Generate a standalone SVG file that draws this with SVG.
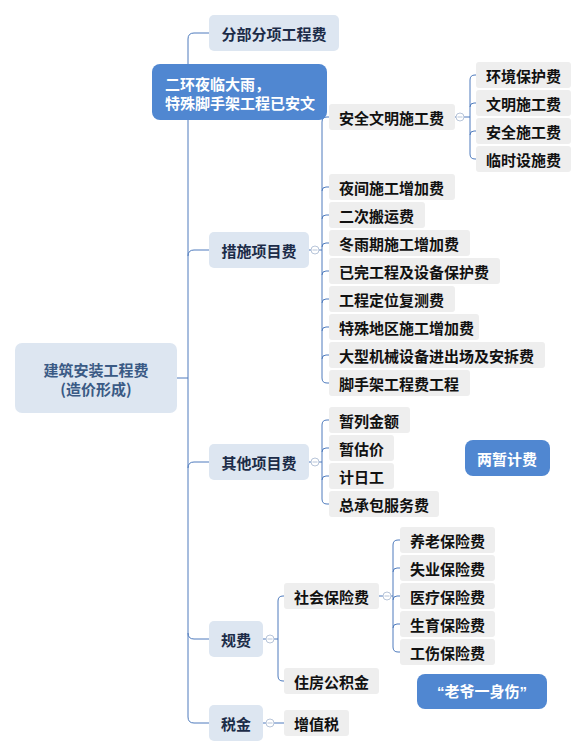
<svg xmlns="http://www.w3.org/2000/svg" width="587" height="750" viewBox="0 0 587 750">
<style>
text{font-family:"Noto Sans CJK SC","Noto Sans CJK TC",sans-serif;font-size:15px;font-weight:bold;dominant-baseline:central}
.root rect{fill:#dde6f1}
.root text{fill:#3a5a85;text-anchor:middle}
.l1 rect{fill:#dde6f1}
.l1 text{fill:#1c2c48;text-anchor:middle}
.l2 rect{fill:#eeeeee}
.l2 text{fill:#111111}
.call rect{fill:#5087d1}
.call text{fill:#ffffff}
.ln{fill:none;stroke:#4e7bbd;stroke-width:1}
.col circle{fill:#ffffff;stroke:#b8c5d9;stroke-width:1}
.col path{stroke:#b8c5d9;stroke-width:1}
</style>
<g id="connectors">
<path class="ln" d="M177,378 H188"/>
<path class="ln" d="M209,33 H194 Q188,33 188,39 V717 Q188,723 194,723 H209"/>
<path class="ln" d="M188,256 Q188,250 194,250 H209"/>
<path class="ln" d="M188,468 Q188,462 194,462 H209"/>
<path class="ln" d="M188,633 Q188,639 194,639 H209"/>
<path class="ln" d="M309,250 H311 M319,250 H322"/>
<path class="ln" d="M329,117 H327 Q322,117 322,122 V378 Q322,383 327,383 H329"/>
<path class="ln" d="M322,191 Q322,187 326,187 H329 M322,219 Q322,215 326,215 H329 M322,247 Q322,243 326,243 H329 M322,275 Q322,271 326,271 H329 M322,303 Q322,299 326,299 H329 M322,331 Q322,327 326,327 H329 M322,359 Q322,355 326,355 H329"/>
<path class="ln" d="M455,117 H456 M464,117 H470"/>
<path class="ln" d="M476,75 H475 Q470,75 470,80 V154 Q470,159 475,159 H476"/>
<path class="ln" d="M470,107 Q470,103 474,103 H476 M470,135 Q470,131 474,131 H476"/>
<path class="ln" d="M309,462 H311 M319,462 H322"/>
<path class="ln" d="M329,420 H327 Q322,420 322,425 V499 Q322,504 327,504 H329"/>
<path class="ln" d="M322,452 Q322,448 326,448 H329 M322,480 Q322,476 326,476 H329"/>
<path class="ln" d="M263,639 H266 M274,639 H278"/>
<path class="ln" d="M284,596 H283 Q278,596 278,601 V676 Q278,681 283,681 H284"/>
<path class="ln" d="M379,596 H383 M391,596 H393"/>
<path class="ln" d="M400,540 H398 Q393,540 393,545 V647 Q393,652 398,652 H400"/>
<path class="ln" d="M393,572 Q393,568 397,568 H400 M393,600 Q393,596 397,596 H400 M393,628 Q393,624 397,624 H400"/>
<path class="ln" d="M263,723 H266 M274,723 H284"/>
<g class="col">
<circle cx="315" cy="250" r="4"/><path d="M312.5,250 H317.5"/>
<circle cx="460" cy="117" r="4"/><path d="M457.5,117 H462.5"/>
<circle cx="315" cy="462" r="4"/><path d="M312.5,462 H317.5"/>
<circle cx="270" cy="639" r="4"/><path d="M267.5,639 H272.5"/>
<circle cx="387" cy="596" r="4"/><path d="M384.5,596 H389.5"/>
<circle cx="270" cy="723" r="4"/><path d="M267.5,723 H272.5"/>
</g>
</g>
<g id="root" class="root"><rect x="15" y="343" width="162" height="70" rx="7"/><text x="96" y="369">建筑安装工程费</text><text x="96" y="388">(造价形成)</text></g>
<g id="fbfx" class="l1"><rect x="209" y="15" width="130" height="36" rx="5"/><text x="274" y="33">分部分项工程费</text></g>
<g id="csxm" class="l1"><rect x="209" y="232" width="100" height="36" rx="5"/><text x="259" y="250">措施项目费</text></g>
<g id="qtxm" class="l1"><rect x="209" y="444" width="100" height="36" rx="5"/><text x="259" y="462">其他项目费</text></g>
<g id="gf" class="l1"><rect x="209" y="621" width="54" height="36" rx="5"/><text x="236" y="639">规费</text></g>
<g id="sj" class="l1"><rect x="209" y="705" width="54" height="36" rx="5"/><text x="236" y="723">税金</text></g>
<g id="aqwm" class="l2"><rect x="329" y="104" width="126" height="26" rx="3"/><text x="339" y="117">安全文明施工费</text></g>
<g id="hjbh" class="l2"><rect x="476" y="62" width="95" height="26" rx="3"/><text x="486" y="75">环境保护费</text></g>
<g id="wmsg" class="l2"><rect x="476" y="90" width="95" height="26" rx="3"/><text x="486" y="103">文明施工费</text></g>
<g id="aqsg" class="l2"><rect x="476" y="118" width="95" height="26" rx="3"/><text x="486" y="131">安全施工费</text></g>
<g id="lssj" class="l2"><rect x="476" y="146" width="95" height="26" rx="3"/><text x="486" y="159">临时设施费</text></g>
<g id="yjsg" class="l2"><rect x="329" y="174" width="126" height="26" rx="3"/><text x="339" y="187">夜间施工增加费</text></g>
<g id="ecby" class="l2"><rect x="329" y="202" width="96" height="26" rx="3"/><text x="339" y="215">二次搬运费</text></g>
<g id="dyq" class="l2"><rect x="329" y="230" width="141" height="26" rx="3"/><text x="339" y="243">冬雨期施工增加费</text></g>
<g id="ywgc" class="l2"><rect x="329" y="258" width="171" height="26" rx="3"/><text x="339" y="271">已完工程及设备保护费</text></g>
<g id="gcdw" class="l2"><rect x="329" y="286" width="126" height="26" rx="3"/><text x="339" y="299">工程定位复测费</text></g>
<g id="tsdq" class="l2"><rect x="329" y="314" width="150" height="26" rx="3"/><text x="339" y="327">特殊地区施工增加费</text></g>
<g id="dxjx" class="l2"><rect x="329" y="342" width="216" height="26" rx="3"/><text x="339" y="355">大型机械设备进出场及安拆费</text></g>
<g id="jsj" class="l2"><rect x="329" y="370" width="141" height="26" rx="3"/><text x="339" y="383">脚手架工程费工程</text></g>
<g id="zlje" class="l2"><rect x="329" y="407" width="81" height="26" rx="3"/><text x="339" y="420">暂列金额</text></g>
<g id="zgj" class="l2"><rect x="329" y="435" width="65" height="26" rx="3"/><text x="339" y="448">暂估价</text></g>
<g id="jrg" class="l2"><rect x="329" y="463" width="65" height="26" rx="3"/><text x="339" y="476">计日工</text></g>
<g id="zcb" class="l2"><rect x="329" y="491" width="110" height="26" rx="3"/><text x="339" y="504">总承包服务费</text></g>
<g id="shbx" class="l2"><rect x="284" y="583" width="95" height="26" rx="3"/><text x="294" y="596">社会保险费</text></g>
<g id="zfgjj" class="l2"><rect x="284" y="668" width="95" height="26" rx="3"/><text x="294" y="681">住房公积金</text></g>
<g id="ylbx" class="l2"><rect x="400" y="527" width="95" height="26" rx="3"/><text x="410" y="540">养老保险费</text></g>
<g id="sybx" class="l2"><rect x="400" y="555" width="95" height="26" rx="3"/><text x="410" y="568">失业保险费</text></g>
<g id="ylbx2" class="l2"><rect x="400" y="583" width="95" height="26" rx="3"/><text x="410" y="596">医疗保险费</text></g>
<g id="syubx" class="l2"><rect x="400" y="611" width="95" height="26" rx="3"/><text x="410" y="624">生育保险费</text></g>
<g id="gsbx" class="l2"><rect x="400" y="639" width="95" height="26" rx="3"/><text x="410" y="652">工伤保险费</text></g>
<g id="zzs" class="l2"><rect x="284" y="710" width="65" height="26" rx="3"/><text x="294" y="723">增值税</text></g>
<g id="note1" class="call"><rect x="152" y="64" width="175" height="56" rx="8"/><text x="165" y="83">二环夜临大雨，</text><text x="165" y="102">特殊脚手架工程已安文</text></g>
<g id="note2" class="call"><rect x="465" y="440" width="85" height="36" rx="8"/><text x="507" y="458" text-anchor="middle">两暂计费</text></g>
<g id="note3" class="call"><rect x="417" y="674" width="130" height="35" rx="8"/><text x="482" y="691" text-anchor="middle" style="font-family:'Liberation Sans','Noto Sans CJK SC',sans-serif">“老爷一身伤”</text></g>
</svg>
